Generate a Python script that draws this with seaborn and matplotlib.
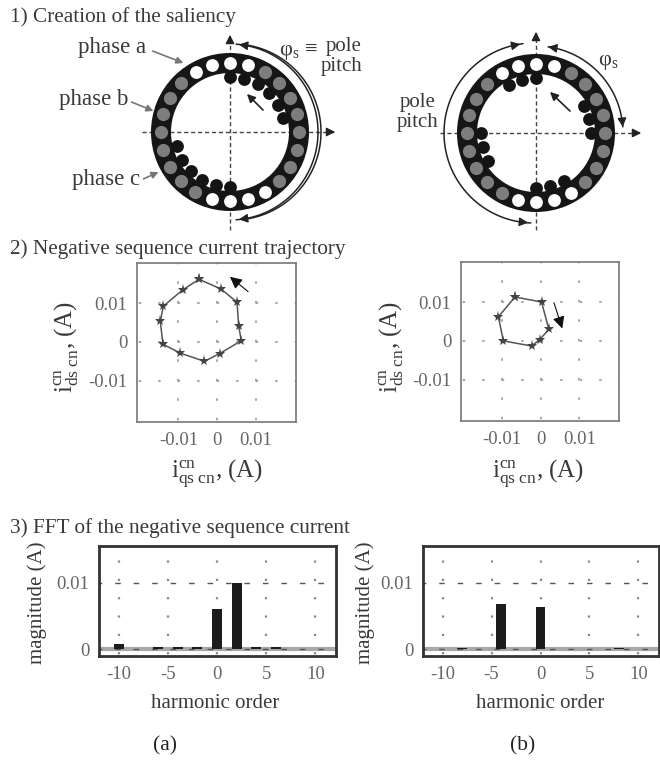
import numpy as np
import pandas as pd
import seaborn as sns
import matplotlib.pyplot as plt
from matplotlib.patches import Wedge

sns.set_theme(style='white')
plt.rcParams['font.family'] = ['Liberation Serif', 'DejaVu Serif']
plt.rcParams['mathtext.fontset'] = 'custom'
plt.rcParams['mathtext.rm'] = 'Liberation Serif'
plt.rcParams['mathtext.it'] = 'Liberation Serif:italic'
plt.rcParams['axes.unicode_minus'] = False

W, H = 660, 760
TXT = '#3a3a3a'
TICK = '#666666'

# stator slots, degrees
white_slots = [120, 105, 90, 75, 255, 270, 285, 300]
gray_slots = [60, 45, 30, 15, 0, -15, -30, -45, 135, 150, 165, 180, 195, 210, 225, 240]
# rotor saliency dots, degrees
dots_a = [90, 75, 60, 45, 30, 15, 270, 255, 240, 225, 210, 195]
dots_b = [90, 105, 120, 30, 15, 0, 180, 195, 210, 270, 285, 300]

# negative sequence current trajectory (qs, ds)
traj_a_x = [-0.0047, 0.0010, 0.0051, 0.0055, 0.0062, 0.0006, -0.0033, -0.0095, -0.0140, -0.0147, -0.0139, -0.0089, -0.0047]
traj_a_y = [0.0161, 0.0136, 0.0102, 0.0042, 0.0003, -0.0030, -0.0050, -0.0029, -0.0006, 0.0053, 0.0092, 0.0134, 0.0161]
traj_b_x = [-0.0067, 0.0002, 0.0021, -0.0003, -0.0024, -0.0097, -0.0110, -0.0067]
traj_b_y = [0.0113, 0.0100, 0.0030, 0.0003, -0.0013, 0.0000, 0.0062, 0.0113]
traj_ticks = [-0.01, 0, 0.01]
traj_labels = ['-0.01', '0', '0.01']

# FFT of the negative sequence current
fft_a_order = [-10, -6, -4, -2, 0, 2, 4, 6]
fft_a_mag = [0.0008, 0.0003, 0.0003, 0.0003, 0.0060, 0.0100, 0.0003, 0.0003]
fft_b_order = [-8, -4, 0, 8]
fft_b_mag = [0.0002, 0.0068, 0.0064, 0.0002]
fft_xticks = [-10, -5, 0, 5, 10]


def px_axes(left, top, right, bottom):
    return fig.add_axes([left / W, 1 - bottom / H, (right - left) / W, (bottom - top) / H])


def ring_xy(cx, cy, r, angles):
    a = np.radians(angles)
    return cx + r * np.cos(a), cy - r * np.sin(a)


def draw_motor(ax, cx, cy, dots):
    ax.add_patch(Wedge((cx, cy), 79, 0, 360, width=20, color='#161616', lw=0, zorder=2))
    for angles, r, c, s in [(white_slots, 69, 'white', 85),
                            (gray_slots, 69, '#7d7d7d', 90),
                            (dots, 55, '#141414', 85)]:
        x, y = ring_xy(cx, cy, r, angles)
        sns.scatterplot(x=x, y=y, color=c, s=s, linewidth=0, ax=ax, zorder=3, legend=False)


def draw_arc(ax, cx, cy, r, a0, a1, heads=True):
    x, y = ring_xy(cx, cy, r, np.linspace(a0, a1, 120))
    ax.plot(x, y, color='#222222', lw=1.1, zorder=2)
    if heads:
        ax.annotate('', xy=(x[-1], y[-1]), xytext=(x[-6], y[-6]),
                    arrowprops=dict(arrowstyle='-|>', color='#222222', lw=1, mutation_scale=13))
        ax.annotate('', xy=(x[0], y[0]), xytext=(x[5], y[5]),
                    arrowprops=dict(arrowstyle='-|>', color='#222222', lw=1, mutation_scale=13))


def draw_cross(ax, cx, cy, left, right, top, bottom):
    ax.plot([left, right], [cy, cy], color='#444444', lw=1, ls=(0, (3, 2)), zorder=1)
    ax.plot([cx, cx], [bottom, top], color='#444444', lw=1, ls=(0, (3, 2)), zorder=1)
    ax.annotate('', xy=(right + 4, cy), xytext=(right - 10, cy),
                arrowprops=dict(arrowstyle='-|>', color='#222222', lw=1, mutation_scale=13), zorder=4)
    ax.annotate('', xy=(cx, top - 4), xytext=(cx, top + 10),
                arrowprops=dict(arrowstyle='-|>', color='#222222', lw=1, mutation_scale=13), zorder=4)


def style_box(ax, lw, color):
    for s in ax.spines.values():
        s.set_visible(True)
        s.set_linewidth(lw)
        s.set_color(color)


def draw_traj(ax, x, y, arrow_from, arrow_to):
    df = pd.DataFrame({'iq': x, 'id': y})
    sns.lineplot(data=df, x='iq', y='id', sort=False, estimator=None, color='#555555', lw=1.1,
                 marker='*', markersize=8, markeredgewidth=0, markerfacecolor='#444444', ax=ax)
    ax.set_xlim(-0.0207, 0.0203)
    ax.set_ylim(-0.0206, 0.0203)
    ax.set_xticks(traj_ticks, traj_labels)
    ax.set_yticks(traj_ticks, traj_labels)
    ax.tick_params(labelsize=13.5, colors=TICK, length=0, pad=7)
    ax.set_xlabel('')
    ax.set_ylabel('')
    ax.grid(True, color='#9a9a9a', lw=1.2, ls=(10.7, (1.5, 10.2)))
    ax.set_axisbelow(True)
    style_box(ax, 1.2, '#777777')
    ax.annotate('', xy=arrow_to, xytext=arrow_from,
                arrowprops=dict(arrowstyle='-|>', color='#111111', lw=0.8, mutation_scale=18))


def draw_fft(ax, order, mag):
    ax.axhline(0, color='#a8a8a8', lw=3, zorder=0)
    sns.barplot(x=order, y=mag, native_scale=True, color='#1c1c1c', saturation=1, linewidth=0,
                width=1.0 / np.diff(order).min(), ax=ax, zorder=3)
    ax.set_xlim(-12.0, 12.1)
    ax.set_ylim(-0.00105, 0.0156)
    ax.set_xticks(fft_xticks, [str(v) for v in fft_xticks])
    ax.set_yticks([0, 0.01], ['0', '0.01'])
    ax.tick_params(labelsize=13.5, colors=TICK, length=0, pad=7)
    ax.grid(True, axis='x', color='#8a8a8a', lw=1.6, ls=(7.5, (1, 7.25)))
    ax.grid(True, axis='y', color='#555555', lw=1.0, ls=(2, (4, 9.3)))
    ax.set_axisbelow(True)
    style_box(ax, 2, '#333333')


fig = plt.figure(figsize=(W / 100, H / 100), dpi=100)

# overlay in image pixels for the motor sketches and the text
ov = fig.add_axes([0, 0, 1, 1], zorder=5)
ov.set_xlim(0, W)
ov.set_ylim(H, 0)
ov.axis('off')
ov.patch.set_alpha(0)

draw_motor(ov, 230, 132, dots_a)
draw_cross(ov, 230, 132, 142, 334, 36, 230)
draw_arc(ov, 230, 132, 88, 86, -86)
draw_arc(ov, 233, 132, 88, 84, -84, heads=False)
ov.annotate('', xy=(245, 92), xytext=(265, 112),
            arrowprops=dict(arrowstyle='-|>', color='#222222', lw=1.2, mutation_scale=12), zorder=6)

draw_motor(ov, 536, 133, dots_b)
draw_cross(ov, 536, 133, 440, 640, 33, 230)
draw_arc(ov, 536, 133, 87, 82, 4)
draw_arc(ov, 534, 133, 90, 97, 268)
ov.annotate('', xy=(548, 90), xytext=(572, 113),
            arrowprops=dict(arrowstyle='-|>', color='#222222', lw=1.2, mutation_scale=12), zorder=6)

# phase pointers
for txt, tx, ty, sx, sy, ex, ey in [('phase a', 112, 48, 150, 50, 186, 64),
                                    ('phase b', 94, 100, 129, 101, 156, 112),
                                    ('phase c', 106, 180, 141, 180, 161, 171)]:
    ov.text(tx, ty, txt, fontsize=16.5, color=TXT, ha='center', va='center')
    ov.annotate('', xy=(ex, ey), xytext=(sx, sy),
                arrowprops=dict(arrowstyle='-|>', color='#777777', lw=1.2, mutation_scale=10), zorder=6)

ov.text(10, 17, '1) Creation of the saliency', fontsize=15.3, color=TXT, va='center')
ov.text(10, 249, '2) Negative sequence current trajectory', fontsize=15.3, color=TXT, va='center')
ov.text(10, 528, '3) FFT of the negative sequence current', fontsize=15.3, color=TXT, va='center')
ov.text(298, 52, r'$\mathrm{\varphi_s}$ ≡', fontsize=16, color=TXT, ha='center', va='center')
ov.text(344, 47, 'pole', fontsize=15, color=TXT, ha='center', va='center')
ov.text(342, 67, 'pitch', fontsize=15, color=TXT, ha='center', va='center')
ov.text(608, 63, r'$\mathrm{\varphi_s}$', fontsize=16, color=TXT, ha='center', va='center')
ov.text(418, 103, 'pole', fontsize=15, color=TXT, ha='center', va='center')
ov.text(418, 123, 'pitch', fontsize=15, color=TXT, ha='center', va='center')

ax_ta = px_axes(137, 263, 296, 422)
draw_traj(ax_ta, traj_a_x, traj_a_y, (0.0085, 0.0125), (0.0027, 0.0172))
ax_tb = px_axes(461, 262, 619, 421)
draw_traj(ax_tb, traj_b_x, traj_b_y, (0.0032, 0.0105), (0.0058, 0.0025))

ax_fa = px_axes(99, 546, 336, 656)
draw_fft(ax_fa, fft_a_order, fft_a_mag)
ax_fb = px_axes(423, 546, 659, 656)
draw_fft(ax_fb, fft_b_order, fft_b_mag)

qs = r'$\mathrm{i}_{\mathrm{qs\ cn}}^{\mathrm{cn}}$, (A)'
ds = r'$\mathrm{i}_{\mathrm{ds\ cn}}^{\mathrm{cn}}$, (A)'
ov.text(217, 474, qs, fontsize=18, color=TXT, ha='center', va='center')
ov.text(538, 474, qs, fontsize=18, color=TXT, ha='center', va='center')
ov.text(66, 347, ds, fontsize=18, color=TXT, ha='center', va='center', rotation=90)
ov.text(391, 347, ds, fontsize=18, color=TXT, ha='center', va='center', rotation=90)

for x in [37, 365]:
    ov.text(x, 603, 'magnitude (A)', fontsize=15, color=TXT, ha='center', va='center', rotation=90)
ov.text(215, 703, 'harmonic order', fontsize=15, color=TXT, ha='center', va='center')
ov.text(540, 703, 'harmonic order', fontsize=15, color=TXT, ha='center', va='center')
ov.text(165, 746, '(a)', fontsize=15.5, color='#222222', ha='center', va='center')
ov.text(523, 746, '(b)', fontsize=15.5, color='#222222', ha='center', va='center')

fig.savefig('out.png', dpi=100)
